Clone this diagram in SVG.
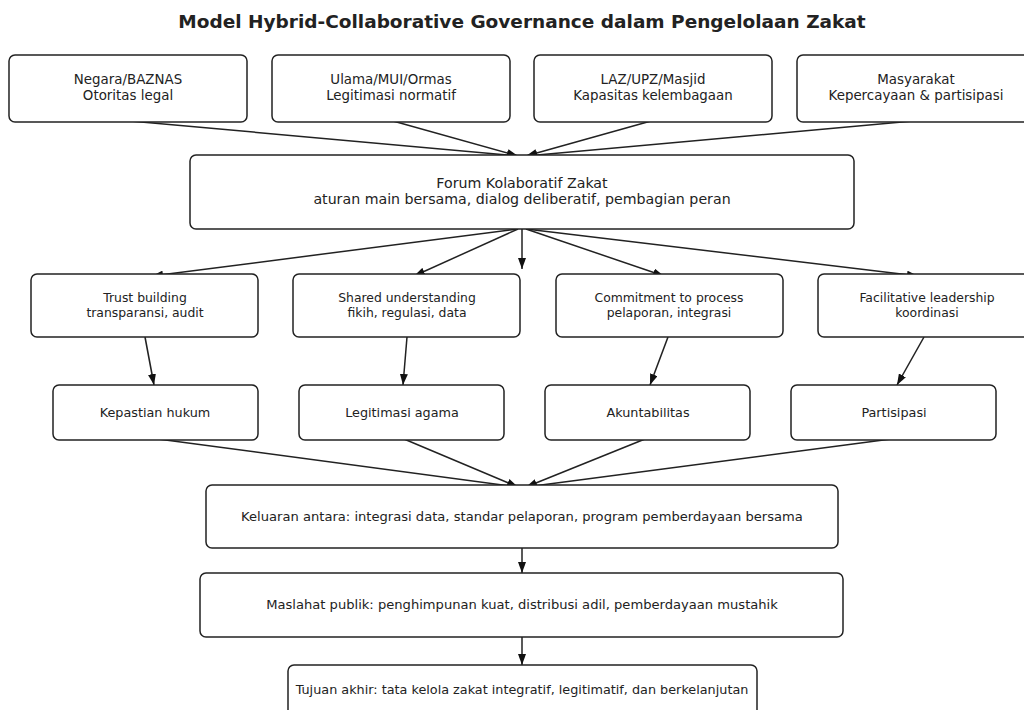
<svg xmlns="http://www.w3.org/2000/svg" width="1024" height="710" viewBox="0 0 1024 710">
<defs>
<marker id="ah" viewBox="0 0 11 8" refX="11" refY="4" markerWidth="11" markerHeight="8" markerUnits="userSpaceOnUse" orient="auto">
<path d="M0,0 L11,4 L0,8 z" fill="#111"/>
</marker>
<style>
.box{fill:#fff;stroke:#222;stroke-width:1.5}
.t{font-family:"DejaVu Sans",sans-serif;fill:#222;text-anchor:middle}
.c{stroke:#222;stroke-width:1.5;fill:none;marker-end:url(#ah)}
</style>
</defs>
<rect width="1024" height="710" fill="#fff"/>
<text class="t" x="522" y="28" font-size="18.5" font-weight="bold" fill="#000">Model Hybrid-Collaborative Governance dalam Pengelolaan Zakat</text>
<g id="connectors">
<line class="c" x1="130" y1="121" x2="518" y2="156"/>
<line class="c" x1="393" y1="121" x2="518" y2="156"/>
<line class="c" x1="651" y1="121" x2="526" y2="156"/>
<line class="c" x1="913" y1="121" x2="526" y2="156"/>
<line class="c" x1="518" y1="229" x2="152" y2="276"/>
<line class="c" x1="518" y1="229" x2="414" y2="276"/>
<line class="c" x1="522" y1="229" x2="522" y2="269"/>
<line class="c" x1="526" y1="229" x2="664" y2="276"/>
<line class="c" x1="526" y1="229" x2="918" y2="276"/>
<line class="c" x1="145" y1="337" x2="154" y2="385"/>
<line class="c" x1="407" y1="337" x2="403" y2="385"/>
<line class="c" x1="668" y1="337" x2="650" y2="385"/>
<line class="c" x1="924" y1="337" x2="897" y2="385"/>
<line class="c" x1="158" y1="439" x2="518" y2="487"/>
<line class="c" x1="404" y1="439" x2="518" y2="487"/>
<line class="c" x1="645" y1="439" x2="526" y2="487"/>
<line class="c" x1="891" y1="439" x2="526" y2="487"/>
<line class="c" x1="522" y1="548" x2="522" y2="573"/>
<line class="c" x1="522" y1="637" x2="522" y2="665"/>
</g>
<g id="n-negara"><rect class="box" x="9" y="55" width="238" height="67" rx="6"/><text class="t" font-size="13.4" x="128" y="84">Negara/BAZNAS</text><text class="t" font-size="13.4" x="128" y="100">Otoritas legal</text></g>
<g id="n-ulama"><rect class="box" x="272" y="55" width="238" height="67" rx="6"/><text class="t" font-size="13.4" x="391" y="84">Ulama/MUI/Ormas</text><text class="t" font-size="13.4" x="391" y="100">Legitimasi normatif</text></g>
<g id="n-laz"><rect class="box" x="534" y="55" width="238" height="67" rx="6"/><text class="t" font-size="13.4" x="653" y="84">LAZ/UPZ/Masjid</text><text class="t" font-size="13.4" x="653" y="100">Kapasitas kelembagaan</text></g>
<g id="n-masyarakat"><rect class="box" x="797" y="55" width="238" height="67" rx="6"/><text class="t" font-size="13.4" x="916" y="84">Masyarakat</text><text class="t" font-size="13.4" x="916" y="100">Kepercayaan &amp; partisipasi</text></g>
<g id="n-forum"><rect class="box" x="190" y="155" width="664" height="74" rx="6"/><text class="t" font-size="14.2" x="522" y="188">Forum Kolaboratif Zakat</text><text class="t" font-size="14.2" x="522" y="204">aturan main bersama, dialog deliberatif, pembagian peran</text></g>
<g id="n-trust"><rect class="box" x="31" y="274" width="227" height="63" rx="6"/><text class="t" font-size="12.4" x="145" y="302">Trust building</text><text class="t" font-size="12.4" x="145" y="317">transparansi, audit</text></g>
<g id="n-shared"><rect class="box" x="293" y="274" width="227" height="63" rx="6"/><text class="t" font-size="12.4" x="407" y="302">Shared understanding</text><text class="t" font-size="12.4" x="407" y="317">fikih, regulasi, data</text></g>
<g id="n-commit"><rect class="box" x="556" y="274" width="227" height="63" rx="6"/><text class="t" font-size="12.4" x="669" y="302">Commitment to process</text><text class="t" font-size="12.4" x="669" y="317">pelaporan, integrasi</text></g>
<g id="n-facil"><rect class="box" x="818" y="274" width="227" height="63" rx="6"/><text class="t" font-size="12.4" x="927" y="302">Facilitative leadership</text><text class="t" font-size="12.4" x="927" y="317">koordinasi</text></g>
<g id="n-kepastian"><rect class="box" x="53" y="385" width="205" height="55" rx="6"/><text class="t" font-size="12.8" x="155" y="417">Kepastian hukum</text></g>
<g id="n-legitimasi"><rect class="box" x="299" y="385" width="205" height="55" rx="6"/><text class="t" font-size="12.8" x="402" y="417">Legitimasi agama</text></g>
<g id="n-akuntabilitas"><rect class="box" x="545" y="385" width="205" height="55" rx="6"/><text class="t" font-size="12.8" x="648" y="417">Akuntabilitas</text></g>
<g id="n-partisipasi"><rect class="box" x="791" y="385" width="205" height="55" rx="6"/><text class="t" font-size="12.8" x="894" y="417">Partisipasi</text></g>
<g id="n-keluaran"><rect class="box" x="206" y="485" width="632" height="63" rx="6"/><text class="t" font-size="13.1" x="522" y="521">Keluaran antara: integrasi data, standar pelaporan, program pemberdayaan bersama</text></g>
<g id="n-maslahat"><rect class="box" x="200" y="573" width="643" height="64" rx="6"/><text class="t" font-size="13.1" x="522" y="609">Maslahat publik: penghimpunan kuat, distribusi adil, pemberdayaan mustahik</text></g>
<g id="n-tujuan"><rect class="box" x="288" y="665" width="469" height="60" rx="6"/><text class="t" font-size="12.8" x="522" y="694">Tujuan akhir: tata kelola zakat integratif, legitimatif, dan berkelanjutan</text></g>
</svg>
